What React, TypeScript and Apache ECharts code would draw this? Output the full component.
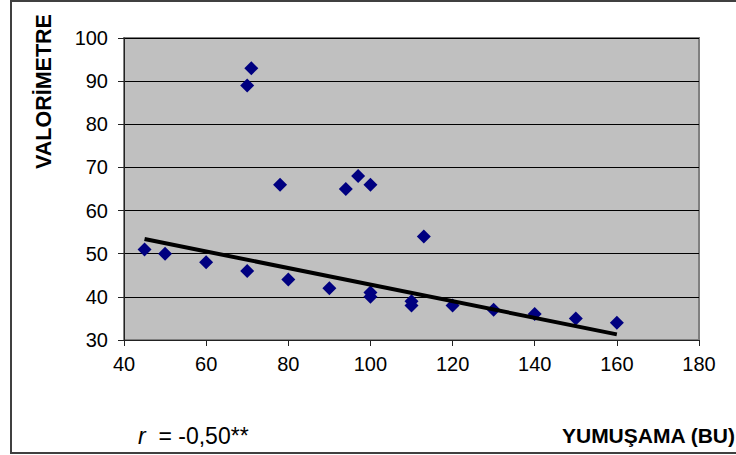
import React, { useEffect, useRef } from "react";
import * as echarts from "echarts";

const softness: number[] = [45, 50, 60, 70, 80, 90, 100, 100, 110, 110, 120, 130, 140, 150, 160, 70, 71, 78, 94, 97, 100, 113];
const valorimeter: number[] = [51, 50, 48, 46, 44, 42, 40, 41, 39, 38, 38, 37, 36, 35, 34, 89, 93, 66, 65, 68, 66, 54];
const trendX: number[] = [45, 160];
const trendY: number[] = [53.4, 31.3];
const xTicks = { min: 40, max: 180, interval: 20 };
const yTicks = { min: 30, max: 100, interval: 10 };
const xTitle = "YUMUŞAMA (BU)";
const yTitle = "VALORİMETRE";
const rLabel = "-0,50**";

export default function App() {
  const ref = useRef<HTMLDivElement>(null);
  useEffect(() => {
    if (!ref.current) return;
    const chart = echarts.init(ref.current, null, { renderer: "svg" });
    const font = "'Liberation Sans', Arial, sans-serif";
    chart.setOption({
      animation: false,
      backgroundColor: "#ffffff",
      textStyle: { fontFamily: font },
      grid: {
        left: 124,
        right: 37,
        top: 38,
        bottom: 115,
        show: true,
        backgroundColor: "#C0C0C0",
        borderColor: "#808080",
        borderWidth: 2,
      },
      xAxis: {
        type: "value",
        min: xTicks.min,
        max: xTicks.max,
        interval: xTicks.interval,
        axisLine: { show: true, onZero: false, lineStyle: { color: "#222", width: 1 } },
        axisTick: { show: true, inside: false, length: 6, lineStyle: { color: "#222" } },
        axisLabel: { color: "#000", fontSize: 20, fontFamily: font, margin: 14 },
        splitLine: { show: false },
      },
      yAxis: {
        type: "value",
        min: yTicks.min,
        max: yTicks.max,
        interval: yTicks.interval,
        axisLine: { show: true, onZero: false, lineStyle: { color: "#222", width: 1 } },
        axisTick: { show: true, inside: false, length: 6, lineStyle: { color: "#222" } },
        axisLabel: { color: "#000", fontSize: 20, fontFamily: font, margin: 16 },
        splitLine: { show: true, lineStyle: { color: "#000", width: 1 } },
      },
      series: [
        {
          type: "scatter",
          data: softness.map((x, i) => [x, valorimeter[i]]),
          symbol: "diamond",
          symbolSize: 14,
          itemStyle: { color: "#000080", opacity: 1 },
          z: 3,
        },
        {
          type: "line",
          data: trendX.map((x, i) => [x, trendY[i]]),
          symbol: "none",
          lineStyle: { color: "#000", width: 4 },
          z: 4,
        },
      ],
      graphic: [
        {
          type: "rect",
          shape: { x: 11, y: 1, width: 740, height: 452 },
          style: { fill: "none", stroke: "#404040", lineWidth: 2 },
          z: 100,
        },
        {
          type: "text",
          x: 43.5,
          y: 91.5,
          rotation: Math.PI / 2,
          style: {
            text: yTitle,
            fontSize: 21.5,
            fontWeight: "bold",
            fontFamily: font,
            fill: "#000",
            align: "center",
            verticalAlign: "middle",
          },
        },
        {
          type: "text",
          x: 735,
          y: 435,
          style: {
            text: xTitle,
            fontSize: 21,
            fontWeight: "bold",
            fontFamily: font,
            fill: "#000",
            align: "right",
            verticalAlign: "middle",
          },
        },
        {
          type: "text",
          x: 138,
          y: 436,
          style: {
            text: "{i|r}{n|  = " + rLabel + "}",
            fontFamily: font,
            fill: "#000",
            align: "left",
            verticalAlign: "middle",
            rich: {
              i: { fontStyle: "italic", fontSize: 23, fontFamily: font, fill: "#000" },
              n: { fontSize: 23, fontFamily: font, fill: "#000" },
            },
          },
        },
      ],
    });
    return () => chart.dispose();
  }, []);
  return (
    <div
      ref={ref}
      style={{ position: "fixed", left: 0, top: 0, width: 736, height: 455 }}
    />
  );
}
